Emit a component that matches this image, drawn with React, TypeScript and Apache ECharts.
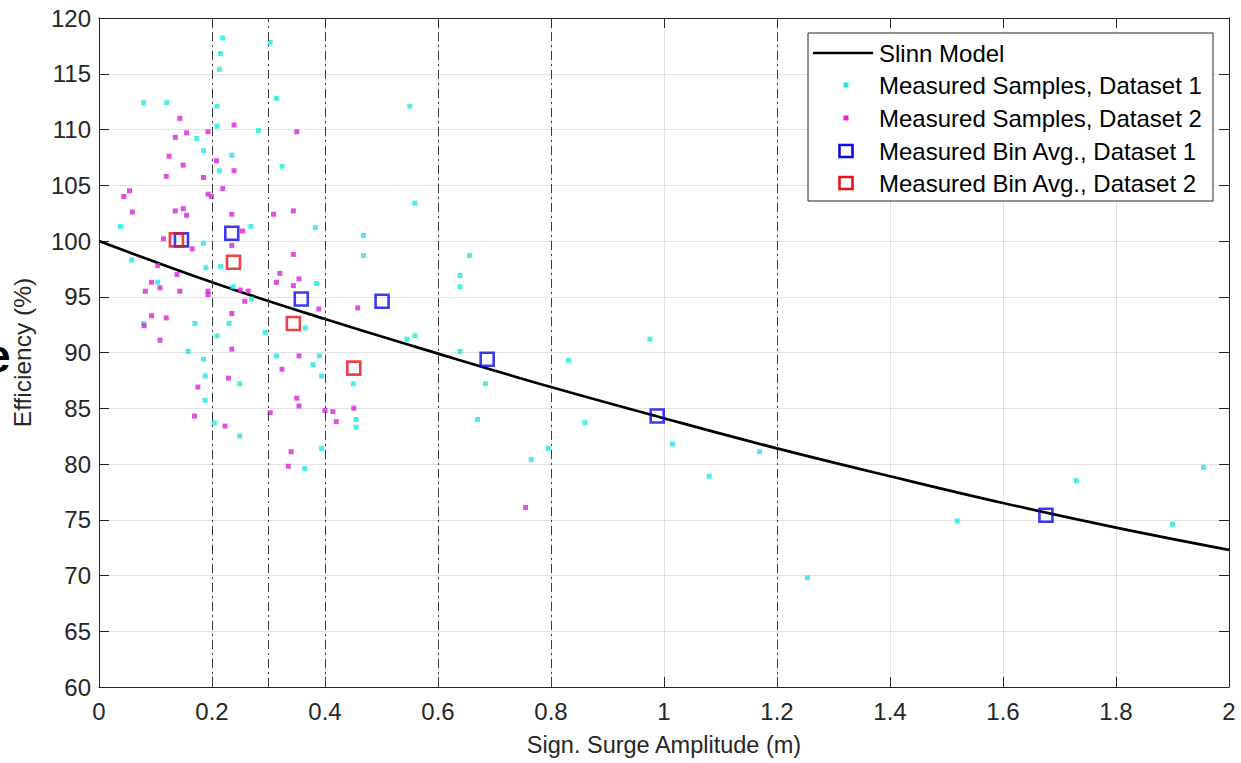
import React, { useEffect, useRef } from "react";
import * as echarts from "echarts";

// ---- data ----
const modelX = [0, 0.2, 0.4, 0.6, 0.8, 1.0, 1.2, 1.4, 1.6, 1.8, 2.0];
const modelY = [100, 96.3, 93.0, 89.9, 86.9, 84.1, 81.4, 78.9, 76.5, 74.3, 72.3];

const binEdges = [0.2, 0.3, 0.4, 0.6, 0.8, 1.2];

const dataset1Samples = [
  [0.219, 118.2], [0.303, 117.8], [0.215, 116.8], [0.213, 115.4], [0.079, 112.4],
  [0.12, 112.4], [0.314, 112.8], [0.209, 112.1], [0.55, 112.1], [0.209, 110.3],
  [0.282, 109.9], [0.173, 109.2], [0.185, 108.1], [0.235, 107.7], [0.213, 106.3],
  [0.324, 106.7], [0.559, 103.4], [0.038, 101.3], [0.269, 101.3], [0.383, 101.2],
  [0.468, 100.5], [0.185, 99.8], [0.058, 98.3], [0.189, 97.6], [0.215, 97.7],
  [0.468, 98.7], [0.656, 98.7], [0.639, 96.9], [0.639, 95.9], [0.104, 96.3],
  [0.385, 96.2], [0.237, 95.9], [0.27, 94.8], [0.079, 92.6], [0.17, 92.6],
  [0.23, 92.6], [0.294, 91.8], [0.365, 92.2], [0.209, 91.5], [0.545, 91.2],
  [0.559, 91.5], [0.975, 91.2], [0.158, 90.1], [0.314, 89.7], [0.39, 89.7],
  [0.639, 90.1], [0.831, 89.3], [0.185, 89.4], [0.379, 88.9], [0.188, 87.9],
  [0.394, 87.9], [0.249, 87.2], [0.45, 87.2], [0.684, 87.2], [0.188, 85.7],
  [0.455, 84.0], [0.455, 83.3], [0.67, 84.0], [0.204, 83.7], [0.86, 83.7],
  [0.249, 82.5], [0.394, 81.4], [0.795, 81.4], [1.015, 81.8], [0.765, 80.4],
  [1.169, 81.1], [0.364, 79.6], [1.08, 78.9], [1.254, 69.8], [1.519, 74.9],
  [1.73, 78.5], [1.9, 74.6], [1.955, 79.7],
];

const dataset2Samples = [
  [0.143, 111.0], [0.239, 110.4], [0.155, 109.7], [0.193, 109.8], [0.135, 109.3],
  [0.124, 107.6], [0.208, 107.2], [0.149, 106.8], [0.239, 106.3], [0.119, 105.8],
  [0.185, 105.7], [0.219, 104.7], [0.054, 104.5], [0.044, 104.0], [0.193, 104.2],
  [0.199, 104.0], [0.059, 102.6], [0.135, 102.7], [0.149, 102.9], [0.155, 102.3],
  [0.235, 102.4], [0.254, 100.9], [0.114, 100.2], [0.165, 99.3], [0.35, 109.8],
  [0.309, 102.4], [0.344, 102.7], [0.235, 99.6], [0.104, 97.8], [0.138, 97.0],
  [0.093, 96.3], [0.108, 95.8], [0.082, 95.5], [0.143, 95.5], [0.193, 95.5],
  [0.193, 95.2], [0.25, 95.6], [0.264, 95.5], [0.258, 94.6], [0.235, 93.5],
  [0.093, 93.3], [0.119, 93.1], [0.08, 92.4], [0.108, 91.1], [0.235, 90.3],
  [0.229, 87.7], [0.175, 86.9], [0.169, 84.3], [0.223, 83.4], [0.344, 98.8],
  [0.32, 97.1], [0.314, 96.3], [0.354, 96.6], [0.344, 96.0], [0.389, 93.9],
  [0.458, 94.0], [0.354, 89.7], [0.324, 88.5], [0.35, 85.9], [0.354, 85.2],
  [0.303, 84.6], [0.4, 84.8], [0.414, 84.7], [0.42, 83.8], [0.451, 85.0],
  [0.34, 81.1], [0.335, 79.8], [0.755, 76.1],
];

const binAvg1 = [
  [0.146, 100.1], [0.235, 100.7], [0.358, 94.8], [0.501, 94.6],
  [0.687, 89.4], [0.988, 84.3], [1.676, 75.4],
];
const binAvg2 = [[0.137, 100.1], [0.238, 98.1], [0.344, 92.6], [0.451, 88.6]];

const seriesNames = [
  "Slinn Model",
  "Measured Samples, Dataset 1",
  "Measured Samples, Dataset 2",
  "Measured Bin Avg., Dataset 1",
  "Measured Bin Avg., Dataset 2",
];

const xAxisTitle = "Sign. Surge Amplitude (m)";
const yAxisTitle = "Efficiency (%)";

const CYAN = "#1ee8e4";
const MAGENTA = "#d624d6";
const BLUE = "#0a0ae6";
const RED = "#e8101c";
const AXIS = "#262626";
const FONT = '"Liberation Sans", Arial, sans-serif';

export default function App() {
  const ref = useRef<HTMLDivElement>(null);

  useEffect(() => {
    if (!ref.current) return;
    const chart = echarts.init(ref.current, undefined, { renderer: "svg" });

    const gridLeft = 99;
    const gridTop = 18;
    const gridW = 1130;
    const gridH = 669;

    const tickFmt = (v: number) => String(parseFloat(v.toFixed(2)));

    const legendX = 808;
    const legendY = 33;
    const rowY = [53, 85, 118, 151, 183];
    const iconX = 846;
    const textX = 879;

    const graphic: any[] = [
      {
        type: "text",
        x: -15,
        y: 356,
        z: 100,
        style: {
          text: "e",
          fontSize: 46,
          fontWeight: "bold",
          fontFamily: FONT,
          fill: "#000",
          verticalAlign: "middle",
        },
      },
      {
        type: "rect",
        z: 100,
        shape: { x: legendX, y: legendY, width: 405, height: 168 },
        style: { fill: "#fff", stroke: AXIS, lineWidth: 1 },
      },
      {
        type: "line",
        z: 101,
        shape: { x1: 813, y1: rowY[0], x2: 873, y2: rowY[0] },
        style: { stroke: "#000", lineWidth: 2.6 },
      },
      {
        type: "rect",
        z: 101,
        shape: { x: iconX - 2.5, y: rowY[1] - 2.5, width: 5, height: 5 },
        style: { fill: CYAN },
      },
      {
        type: "rect",
        z: 101,
        shape: { x: iconX - 2.5, y: rowY[2] - 2.5, width: 5, height: 5 },
        style: { fill: MAGENTA },
      },
      {
        type: "rect",
        z: 101,
        shape: { x: iconX - 6.5, y: rowY[3] - 6, width: 13, height: 12 },
        style: { fill: "none", stroke: BLUE, lineWidth: 2.6 },
      },
      {
        type: "rect",
        z: 101,
        shape: { x: iconX - 6.5, y: rowY[4] - 6, width: 13, height: 12 },
        style: { fill: "none", stroke: RED, lineWidth: 2.6 },
      },
      ...seriesNames.map((name, i) => ({
        type: "text",
        z: 101,
        x: textX,
        y: rowY[i],
        style: {
          text: name,
          fontSize: 24,
          fontFamily: FONT,
          fill: "#000",
          verticalAlign: "middle",
        },
      })),
    ];

    const option: any = {
      animation: false,
      backgroundColor: "#fff",
      grid: { left: gridLeft, top: gridTop, width: gridW, height: gridH, containLabel: false },
      xAxis: [
        {
          type: "value",
          min: 0,
          max: 2,
          interval: 0.2,
          position: "bottom",
          name: xAxisTitle,
          nameLocation: "middle",
          nameGap: 46,
          nameTextStyle: { fontSize: 23.5, color: AXIS, fontFamily: FONT },
          axisLine: { show: true, onZero: false, lineStyle: { color: AXIS, width: 1 } },
          axisTick: { show: true, inside: true, length: 10, lineStyle: { color: AXIS } },
          axisLabel: { fontSize: 24, color: AXIS, fontFamily: FONT, margin: 12, formatter: tickFmt },
          splitLine: { show: true, lineStyle: { color: "#e2e2e2", width: 1 } },
        },
        {
          type: "value",
          min: 0,
          max: 2,
          interval: 0.2,
          position: "top",
          axisLine: { show: true, onZero: false, lineStyle: { color: AXIS, width: 1 } },
          axisTick: { show: true, inside: true, length: 10, lineStyle: { color: AXIS } },
          axisLabel: { show: false },
          splitLine: { show: false },
        },
      ],
      yAxis: [
        {
          type: "value",
          min: 60,
          max: 120,
          interval: 5,
          position: "left",
          name: yAxisTitle,
          nameLocation: "middle",
          nameGap: 64,
          nameTextStyle: { fontSize: 24.5, color: AXIS, fontFamily: FONT },
          axisLine: { show: true, onZero: false, lineStyle: { color: AXIS, width: 1 } },
          axisTick: { show: true, inside: true, length: 10, lineStyle: { color: AXIS } },
          axisLabel: { fontSize: 24, color: AXIS, fontFamily: FONT, margin: 8 },
          splitLine: { show: true, lineStyle: { color: "#e2e2e2", width: 1 } },
        },
        {
          type: "value",
          min: 60,
          max: 120,
          interval: 5,
          position: "right",
          axisLine: { show: true, onZero: false, lineStyle: { color: AXIS, width: 1 } },
          axisTick: { show: true, inside: true, length: 10, lineStyle: { color: AXIS } },
          axisLabel: { show: false },
          splitLine: { show: false },
        },
      ],
      graphic,
      series: [
        {
          name: seriesNames[0],
          type: "line",
          data: modelX.map((x, i) => [x, modelY[i]]),
          smooth: 0.4,
          showSymbol: false,
          symbol: "none",
          lineStyle: { color: "#000", width: 2.7 },
          z: 3,
          markLine: {
            silent: true,
            symbol: "none",
            label: { show: false },
            lineStyle: { color: "#3a3a3a", width: 1, type: [9, 4, 2, 4] },
            data: binEdges.map((e) => ({ xAxis: e })),
          },
        },
        {
          name: seriesNames[1],
          type: "scatter",
          data: dataset1Samples,
          symbol: "rect",
          symbolSize: 5,
          itemStyle: { color: CYAN },
          z: 4,
        },
        {
          name: seriesNames[2],
          type: "scatter",
          data: dataset2Samples,
          symbol: "rect",
          symbolSize: 5,
          itemStyle: { color: MAGENTA },
          z: 4,
        },
        {
          name: seriesNames[3],
          type: "scatter",
          data: binAvg1,
          symbol: "rect",
          symbolSize: 13,
          itemStyle: { color: "transparent", borderColor: BLUE, borderWidth: 2.6 },
          z: 5,
        },
        {
          name: seriesNames[4],
          type: "scatter",
          data: binAvg2,
          symbol: "rect",
          symbolSize: 13,
          itemStyle: { color: "transparent", borderColor: RED, borderWidth: 2.6 },
          z: 5,
        },
      ],
    };

    chart.setOption(option);
    return () => chart.dispose();
  }, []);

  return (
    <div
      ref={ref}
      style={{ position: "absolute", left: 0, top: 0, width: 1241, height: 763, background: "#fff" }}
    />
  );
}
